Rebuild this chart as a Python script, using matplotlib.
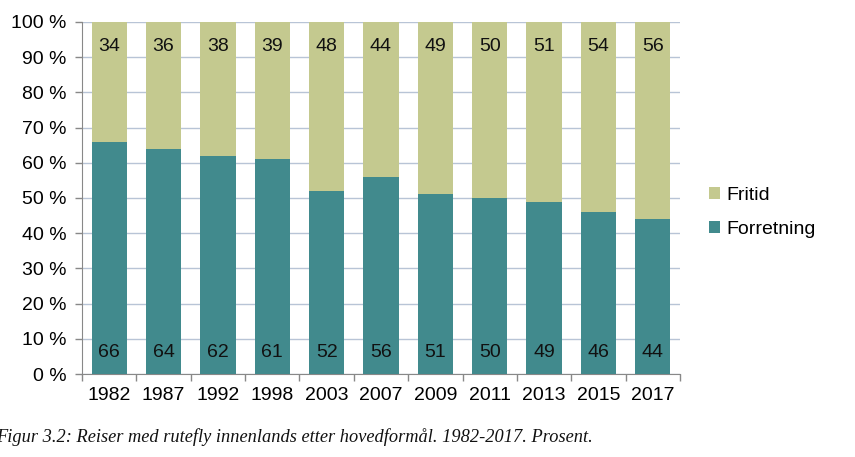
import numpy as np
import matplotlib
matplotlib.use("Agg")
import matplotlib.pyplot as plt

plt.rcParams['font.family'] = ['Liberation Sans', 'DejaVu Sans']

years = ['1982', '1987', '1992', '1998', '2003', '2007', '2009', '2011', '2013', '2015', '2017']
forretning = [66, 64, 62, 61, 52, 56, 51, 50, 49, 46, 44]
fritid = [34, 36, 38, 39, 48, 44, 49, 50, 51, 54, 56]
yticks = [0, 10, 20, 30, 40, 50, 60, 70, 80, 90, 100]
caption = 'Figur 3.2: Reiser med rutefly innenlands etter hovedformål. 1982-2017. Prosent.'

c_forr = '#418a8d'
c_frit = '#c4c98f'
grid_c = '#b8c4d6'

fig = plt.figure(figsize=(8.55, 4.57), dpi=100)
ax = fig.add_axes([0.0959, 0.1816, 0.6994, 0.7703])

x = np.arange(len(years))
b1 = ax.bar(x, forretning, width=0.65, color=c_forr, label='Forretning', zorder=3)
b2 = ax.bar(x, fritid, width=0.65, bottom=forretning, color=c_frit, label='Fritid', zorder=3)

for i in range(len(years)):
    ax.text(x[i], 6.0, str(forretning[i]), ha='center', va='center', fontsize=14, color='#111111', zorder=4)
    ax.text(x[i], 93.0, str(fritid[i]), ha='center', va='center', fontsize=14, color='#111111', zorder=4)

ax.set_xlim(-0.5, len(years) - 0.5)
ax.set_ylim(0, 100)
ax.set_yticks(yticks)
ax.set_yticklabels(['%d %%' % v for v in yticks], fontsize=14)
ax.yaxis.grid(True, color=grid_c, linewidth=1, zorder=0)
ax.tick_params(axis='y', length=5, color='#888888', width=1, pad=6)

ax.set_xticks(x)
ax.set_xticklabels(years, fontsize=14)
ax.tick_params(axis='x', length=0, pad=9)
ax.set_xticks(np.arange(-0.5, len(years), 1), minor=True)
ax.tick_params(axis='x', which='minor', length=5, color='#888888', width=1)

for s in ['top', 'right']:
    ax.spines[s].set_visible(False)
ax.spines['left'].set_color('#888888')
ax.spines['bottom'].set_color('#888888')

leg = fig.legend(handles=[b2, b1], loc='upper left', bbox_to_anchor=(0.809, 0.63),
                 frameon=False, fontsize=14, handlelength=0.55, handleheight=0.55,
                 handletextpad=0.35, labelspacing=0.9)

fig.text(-0.004, 0.043, caption, fontsize=13.2, style='italic',
         family=['Liberation Serif', 'DejaVu Serif'], ha='left', va='center', color='#111111')

fig.savefig('out.png', dpi=100)
